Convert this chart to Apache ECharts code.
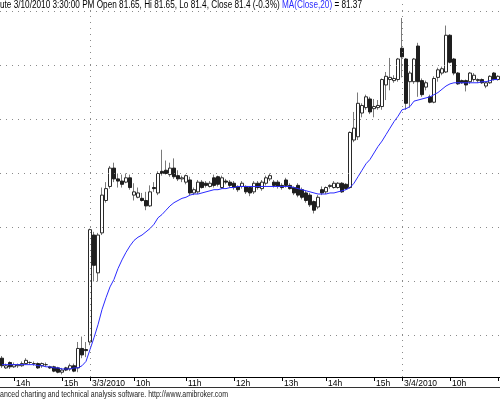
<!DOCTYPE html>
<html>
<head>
<meta charset="utf-8">
<script src="https://cdn.jsdelivr.net/npm/echarts@6/dist/echarts.min.js"></script>
<style>html,body{margin:0;padding:0;background:#fff;}#c{width:500px;height:400px;}</style>
</head>
<body>
<div id="c"></div>
<script>
// ---- data (5-minute bars) ----
const opens = [
78.79,78.70,78.75,78.71,78.72,78.72,78.74,78.75,78.74,78.74,
78.72,78.73,78.71,78.71,78.70,78.66,78.70,78.69,78.72,78.70,
78.88,78.87,78.94,79.93,79.58,79.95,80.25,80.38,80.55,80.45,
80.43,80.42,80.46,80.30,80.28,80.27,80.25,80.20,80.37,80.32,
80.52,80.53,80.49,80.55,80.48,80.45,80.42,80.44,80.32,80.33,
80.42,80.41,80.38,80.46,80.47,80.37,80.43,80.42,80.41,80.38,
80.38,80.38,80.37,80.33,80.41,80.36,80.41,80.45,80.42,80.42,
80.39,80.44,80.39,80.37,80.39,80.35,80.32,80.30,80.24,80.19,
80.35,80.33,80.38,80.37,80.37,80.41,80.40,80.37,80.81,80.84,
81.06,81.11,81.19,81.10,81.11,81.12,81.32,81.37,81.36,81.37,
81.66,81.56,81.35,81.35,81.68,81.36,81.30,81.21,81.16,81.39,
81.43,81.44,81.78,81.56,81.43,81.36,81.36,81.35,81.37,81.36,
81.37,81.31,81.34,81.43,81.37];
const closes = [
78.72,78.72,78.71,78.73,78.73,78.74,78.77,78.75,78.74,78.70,
78.74,78.73,78.70,78.67,78.66,78.68,78.68,78.72,78.67,78.88,
78.82,78.86,79.98,79.65,79.93,80.30,80.36,80.55,80.45,80.43,
80.40,80.46,80.37,80.33,80.32,80.25,80.20,80.33,80.36,80.50,
80.50,80.50,80.55,80.47,80.45,80.46,80.48,80.32,80.35,80.42,
80.37,80.39,80.41,80.39,80.40,80.46,80.42,80.39,80.37,80.35,
80.41,80.33,80.32,80.41,80.37,80.42,80.46,80.48,80.39,80.38,
80.37,80.39,80.36,80.32,80.30,80.28,80.25,80.21,80.16,80.28,
80.32,80.37,80.39,80.41,80.41,80.33,80.36,80.88,80.92,81.15,
81.13,81.21,81.07,81.12,81.13,81.37,81.40,81.39,81.38,81.56,
81.58,81.15,81.43,81.56,81.35,81.23,81.34,81.16,81.38,81.46,
81.47,81.78,81.53,81.43,81.33,81.34,81.32,81.43,81.41,81.37,
81.34,81.34,81.40,81.37,81.40];
const lows = [
78.70,78.69,78.69,78.70,78.70,78.71,78.73,78.73,78.72,78.69,
78.70,78.71,78.69,78.66,78.65,78.64,78.67,78.67,78.66,78.66,
78.79,78.80,78.91,79.50,79.50,79.93,80.23,80.36,80.42,80.37,
80.37,80.41,80.35,80.25,80.27,80.24,80.16,80.19,80.33,80.30,
80.48,80.49,80.47,80.45,80.43,80.42,80.40,80.30,80.30,80.31,
80.36,80.37,80.37,80.37,80.38,80.36,80.40,80.37,80.35,80.33,
80.36,80.31,80.29,80.31,80.35,80.34,80.39,80.43,80.37,80.36,
80.35,80.37,80.35,80.30,80.28,80.26,80.23,80.19,80.13,80.17,
80.30,80.31,80.36,80.36,80.36,80.32,80.35,80.36,80.79,80.81,
81.02,81.09,81.05,81.02,81.09,81.09,81.18,81.27,81.34,81.35,
81.39,81.09,81.11,81.33,81.21,81.21,81.27,81.15,81.15,81.35,
81.41,81.43,81.52,81.41,81.32,81.33,81.26,81.33,81.35,81.34,
81.33,81.29,81.33,81.36,81.36];
const highs = [
78.81,78.74,78.76,78.75,78.74,78.76,78.79,78.76,78.76,78.75,
78.75,78.75,78.72,78.72,78.71,78.70,78.71,78.74,78.74,78.94,
78.99,78.94,79.99,79.96,79.95,80.37,80.42,80.57,80.60,80.50,
80.49,80.50,80.49,80.41,80.37,80.32,80.33,80.39,80.42,80.52,
80.72,80.62,80.60,80.64,80.53,80.48,80.49,80.47,80.37,80.44,
80.44,80.43,80.43,80.49,80.48,80.48,80.45,80.44,80.43,80.39,
80.43,80.39,80.38,80.43,80.43,80.44,80.48,80.50,80.44,80.44,
80.41,80.46,80.41,80.38,80.41,80.37,80.34,80.32,80.25,80.30,
80.38,80.38,80.40,80.43,80.42,80.42,80.41,80.89,81.07,81.25,
81.15,81.23,81.21,81.19,81.18,81.38,81.44,81.57,81.41,81.57,
81.94,81.57,81.45,81.57,81.71,81.38,81.36,81.23,81.40,81.48,
81.49,81.87,81.79,81.57,81.44,81.37,81.37,81.44,81.43,81.38,
81.38,81.35,81.41,81.44,81.41];
const ma20 = [
78.73,78.73,78.73,78.73,78.73,78.73,78.73,78.73,78.73,78.72,
78.72,78.71,78.71,78.70,78.70,78.69,78.69,78.69,78.70,78.70,
78.72,78.76,78.87,78.98,79.10,79.24,79.35,79.45,79.52,79.62,
79.70,79.77,79.83,79.88,79.91,79.93,79.96,79.99,80.03,80.09,
80.12,80.16,80.20,80.23,80.25,80.27,80.28,80.30,80.31,80.31,
80.32,80.33,80.34,80.35,80.35,80.36,80.36,80.37,80.37,80.38,
80.38,80.38,80.38,80.38,80.38,80.38,80.38,80.38,80.38,80.38,
80.38,80.38,80.38,80.37,80.36,80.35,80.34,80.33,80.32,80.31,
80.31,80.31,80.32,80.32,80.33,80.34,80.35,80.37,80.41,80.47,
80.53,80.59,80.63,80.69,80.75,80.80,80.86,80.92,80.98,81.03,
81.09,81.10,81.12,81.17,81.18,81.19,81.20,81.21,81.23,81.25,
81.28,81.31,81.33,81.34,81.34,81.34,81.34,81.34,81.34,81.34,
81.35,81.35,81.36,81.37,81.37];
const tickBars   = [3, 15, 22, 33, 46, 58, 70, 81, 93, 100, 112, 124];
const tickLabels = ['14h','15h','3/3/2010','10h','11h','12h','13h','14h','15h','3/4/2010','10h','11h'];
const dayStarts  = [22, 100];
const gridLevels = [79.0, 79.5, 80.0, 80.5, 81.0, 81.5, 82.0];
const titleText  = 'ute 3/10/2010 3:30:00 PM Open 81.65, Hi 81.65, Lo 81.4, Close 81.4 (-0.3%) ';
const maLabel    = 'MA(Close,20)';
const maValueText = ' = 81.37';
const footerText = 'anced charting and technical analysis software. http://www.amibroker.com';

// ---- build ----
const FONT = '"Liberation Sans", Arial, sans-serif';
const cats = opens.map((_, i) => {
  const k = tickBars.indexOf(i);
  return k >= 0 ? tickLabels[k] : '';
});
const full = opens.map((o, i) => [o, closes[i], lows[i], highs[i]]);
const bodies = opens.map((o, i) => [o, closes[i], Math.min(o, closes[i]), Math.max(o, closes[i])]);
const isTick = (i) => cats[i] !== '';

const ctx = document.createElement('canvas').getContext('2d');
function textWidth(str, px) { ctx.font = px + 'px ' + FONT; return ctx.measureText(str).width; }
const titleW = textWidth(titleText + maLabel + maValueText, 10);
const titleScale = 362 / titleW;
const footerW = textWidth(footerText, 9);
const footerScale = 228 / footerW;

const chart = echarts.init(document.getElementById('c'), null, {renderer: 'canvas'});
const dotted = {color: '#8a8a8a', width: 1, type: [1, 5]};
chart.setOption({
  animation: false,
  backgroundColor: '#ffffff',
  grid: {left: 0, right: 0, top: 0, bottom: 23, containLabel: false, outerBoundsMode: 'none'},
  xAxis: {
    type: 'category', data: cats, boundaryGap: true,
    axisLine: {show: true, lineStyle: {color: '#000', width: 1}},
    axisTick: {show: true, alignWithLabel: true, interval: isTick, length: 4, lineStyle: {color: '#000'}},
    axisLabel: {show: true, interval: isTick, align: 'left', margin: 2, padding: [0, 0, 0, 2],
      fontFamily: FONT, fontSize: 8.5, color: '#000', hideOverlap: false},
    splitLine: {show: false}
  },
  yAxis: {
    type: 'value', min: 78.6157, max: 82.1065, scale: true,
    axisLine: {show: false}, axisTick: {show: false}, axisLabel: {show: false}, splitLine: {show: false}
  },
  series: [
    {
      type: 'line', data: ma20.map(() => null), silent: true,
      markLine: {
        silent: true, symbol: ['none', 'none'], label: {show: false},
        lineStyle: dotted,
        data: gridLevels.map(v => ({yAxis: v})).concat(dayStarts.map(d => ({xAxis: d})))
      }
    },
    {
      type: 'candlestick', data: full, barWidth: 1, silent: true,
      itemStyle: {color: '#7a7a7a', color0: '#7a7a7a', borderColor: '#7a7a7a', borderColor0: '#7a7a7a', borderWidth: 1}
    },
    {
      type: 'candlestick', data: bodies, barWidth: 3, silent: true,
      itemStyle: {color: '#ffffff', color0: '#1e1e1e', borderColor: '#2a2a2a', borderColor0: '#1e1e1e', borderColorDoji: '#2a2a2a', borderWidth: 1}
    },
    {
      type: 'line', data: ma20, showSymbol: false, silent: true, smooth: false,
      lineStyle: {color: '#2b2bff', width: 1}
    }
  ],
  graphic: [
    {type: 'text', x: 0, y: 0, scaleX: titleScale, scaleY: 1, originX: 0, originY: 0, z: 100,
      style: {
        text: '{a|' + titleText + '}{b|' + maLabel + '}{a|' + maValueText + '}',
        verticalAlign: 'top', align: 'left',
        rich: {
          a: {font: '10px ' + FONT, fill: '#000'},
          b: {font: '10px ' + FONT, fill: '#2b2bff'}
        }
      }},
    {type: 'line', shape: {x1: 0, y1: 387.5, x2: 500, y2: 387.5}, style: {stroke: '#333', lineWidth: 1}},
    {type: 'text', x: 0, y: 390, scaleX: footerScale, originX: 0, originY: 0,
      style: {text: footerText, font: '9px ' + FONT, fill: '#222', verticalAlign: 'top', align: 'left'}}
  ]
});
</script>
</body>
</html>
